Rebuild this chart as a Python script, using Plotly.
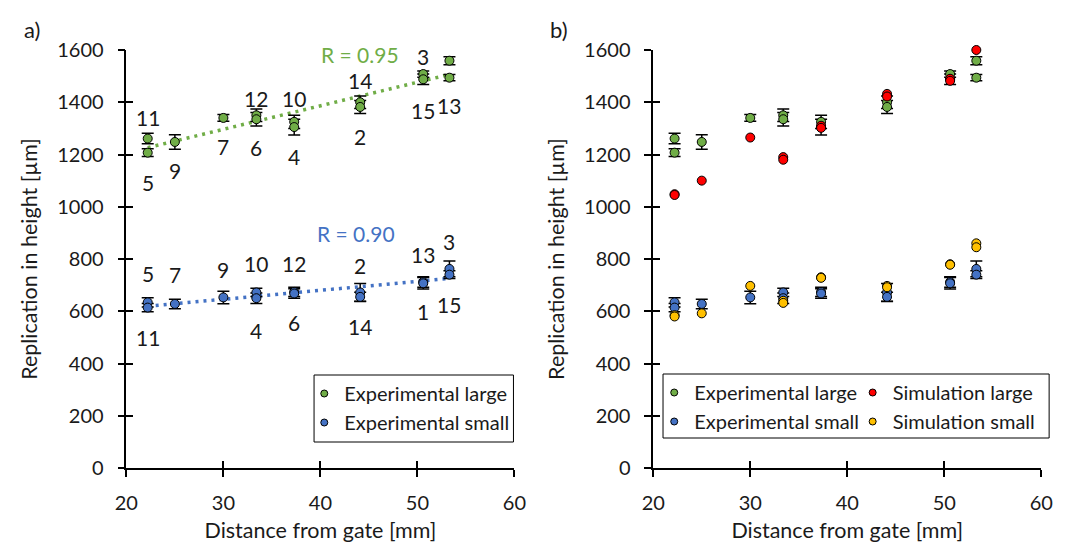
import numpy as np
import plotly.graph_objects as go

# ---- data -----------------------------------------------------------------
# Large cavities: gate distance [mm], sample id, measured height, std, simulated height
dist_large = [22.2, 22.2, 25.0, 30.0, 33.4, 33.4, 37.3, 37.3, 44.1, 44.1, 50.6, 50.6, 53.3, 53.3]
id_large = [11, 5, 9, 7, 12, 6, 10, 4, 14, 2, 3, 15, 1, 13]
exp_large = [1261, 1207, 1248, 1340, 1350, 1335, 1325, 1305, 1400, 1382, 1508, 1488, 1559, 1494]
err_large = [20, 15, 28, 13, 24, 26, 25, 30, 24, 25, 12, 20, 15, 12]
sim_large = [1048, 1045, 1100, 1265, 1190, 1180, 1310, 1302, 1432, 1422, 1490, 1482, 1603, 1600]
lab_y_large = [1340, 1091, 1137, 1230, 1416, 1225, 1416, 1192, 1483, 1268, 1577, 1370, 1626, 1386]

# Small cavities
dist_small = [22.2, 22.2, 25.0, 30.0, 33.4, 33.4, 37.3, 37.3, 44.1, 44.1, 50.6, 50.6, 53.3, 53.3]
id_small = [5, 11, 7, 9, 10, 4, 12, 6, 2, 14, 13, 1, 3, 15]
exp_small = [634, 614, 628, 653, 672, 650, 674, 668, 672, 655, 712, 707, 762, 740]
err_small = [18, 16, 18, 24, 16, 20, 18, 18, 34, 18, 20, 22, 30, 15]
sim_small = [585, 580, 592, 697, 640, 632, 730, 728, 697, 692, 780, 778, 860, 845]
lab_y_small = [745, 500, 739, 758, 781, 528, 781, 556, 777, 541, 819, 598, 866, 624]

r_large = "R = 0.95"
r_small = "R = 0.90"

x_ticks = [20, 30, 40, 50, 60]
y_ticks = [0, 200, 400, 600, 800, 1000, 1200, 1400, 1600]

# ---- style ----------------------------------------------------------------
GREEN = "#70AD47"
BLUE = "#4472C4"
RED = "#FF0000"
YELLOW = "#FFC000"
INK = "#1a1a1a"
FONT = "Lato"
W, H = 1067, 545
M_T, M_B = 50, 77
DOM_A = [117 / W, 514 / W]
DOM_B = [656 / W, 1053 / W]


def py(pix):
    """vertical pixel (from top) -> paper fraction"""
    return (H - M_B - pix) / (H - M_T - M_B)


fig = go.Figure()


def points(x, y, color, xa, ya, err=None):
    kw = {}
    if err is not None:
        kw["error_y"] = dict(type="data", array=err, visible=True, color="black",
                             thickness=1.5, width=6)
    fig.add_trace(go.Scatter(
        x=x, y=y, mode="markers", xaxis=xa, yaxis=ya, showlegend=False,
        cliponaxis=False,
        marker=dict(size=9, color=color, line=dict(color="black", width=1)),
        **kw))


def trend(x, y, color, xa, ya):
    k, b = np.polyfit(x, y, 1)
    xs = np.array([min(x), max(x)])
    fig.add_trace(go.Scatter(
        x=xs, y=k * xs + b, mode="lines", xaxis=xa, yaxis=ya, showlegend=False,
        line=dict(color=color, width=3.5, dash="3px,5px")))


def legend_entry(name, color, legend):
    fig.add_trace(go.Scatter(
        x=[None], y=[None], mode="markers", name=name, legend=legend,
        marker=dict(size=7, color=color, line=dict(color="black", width=1))))


# panel a
trend(dist_large, exp_large, GREEN, "x", "y")
trend(dist_small, exp_small, BLUE, "x", "y")
points(dist_large, exp_large, GREEN, "x", "y", err_large)
points(dist_small, exp_small, BLUE, "x", "y", err_small)

# panel b
points(dist_large, exp_large, GREEN, "x2", "y2", err_large)
points(dist_small, exp_small, BLUE, "x2", "y2", err_small)
points(dist_large, sim_large, RED, "x2", "y2")
points(dist_small, sim_small, YELLOW, "x2", "y2")

legend_entry("Experimental large", GREEN, "legend")
legend_entry("Experimental small", BLUE, "legend")
legend_entry("Experimental large", GREEN, "legend2")
legend_entry("Experimental small", BLUE, "legend2")
legend_entry("Simulation large", RED, "legend3")
legend_entry("Simulation small", YELLOW, "legend3")

# cross-style tick marks: an inside-tick twin of every axis
for xa, ya in (("x3", "y3"), ("x4", "y4")):
    fig.add_trace(go.Scatter(x=[None], y=[None], xaxis=xa, yaxis=ya,
                             showlegend=False, hoverinfo="skip"))

LABEL_SIZE = 21
ann = []
for x, y, t in zip(dist_large, lab_y_large, id_large):
    ann.append(dict(x=x, y=y, xref="x", yref="y", text=str(t), showarrow=False,
                    font=dict(family=FONT, size=LABEL_SIZE, color=INK)))
for x, y, t in zip(dist_small, lab_y_small, id_small):
    ann.append(dict(x=x, y=y, xref="x", yref="y", text=str(t), showarrow=False,
                    font=dict(family=FONT, size=LABEL_SIZE, color=INK)))


def paper_text(xp, yp, text, color, size):
    ann.append(dict(x=xp / W, y=py(yp), xref="paper", yref="paper", text=text,
                    xanchor="center", yanchor="middle", showarrow=False,
                    font=dict(family=FONT, size=size, color=color)))


paper_text(356, 54, r_large, GREEN, LABEL_SIZE)
paper_text(352, 234, r_small, BLUE, LABEL_SIZE)
paper_text(20, 30, "a)", INK, 22)
paper_text(560, 30, "b)", INK, 22)

tickfont = dict(family=FONT, size=20, color=INK)
titlefont = dict(family=FONT, size=21.5, color=INK)


def xaxis(dom, main=True, over=None):
    d = dict(domain=dom, range=[20, 60], tickvals=x_ticks, showgrid=False,
             zeroline=False, ticklen=7, tickwidth=1.5, tickcolor="black")
    if main:
        d.update(showline=True, linecolor="black", linewidth=1.5, ticks="outside",
                 tickfont=tickfont, ticklabelstandoff=9,
                 title=dict(text="Distance from gate [mm]", font=titlefont, standoff=10))
    else:
        d.update(overlaying=over, ticks="inside", showticklabels=False, showline=False)
    return d


def yaxis(main=True, over=None):
    d = dict(range=[0, 1600], tickvals=y_ticks, showgrid=False, zeroline=False,
             ticklen=7, tickwidth=1.5, tickcolor="black")
    if main:
        d.update(showline=True, linecolor="black", linewidth=1.5, ticks="outside",
                 tickfont=tickfont, ticklabelstandoff=10,
                 title=dict(text="Replication in height [µm]", font=titlefont, standoff=14))
    else:
        d.update(overlaying=over, ticks="inside", showticklabels=False, showline=False)
    return d


legend_common = dict(font=dict(family=FONT, size=20, color=INK), bgcolor="rgba(0,0,0,0)",
                     xanchor="left", yanchor="top", borderwidth=0,
                     itemsizing="trace")


def box(x0, x1, y0, y1):
    return dict(type="rect", xref="paper", yref="paper", x0=x0 / W, x1=x1 / W,
                y0=py(y1), y1=py(y0), line=dict(color="black", width=1))


fig.update_layout(
    width=W, height=H, margin=dict(l=0, r=0, t=M_T, b=M_B),
    plot_bgcolor="white", paper_bgcolor="white",
    font=dict(family=FONT, color=INK),
    xaxis=dict(**xaxis(DOM_A), anchor="y"),
    yaxis=dict(**yaxis(), anchor="x"),
    xaxis2=dict(**xaxis(DOM_B), anchor="y2"),
    yaxis2=dict(**yaxis(), anchor="x2"),
    xaxis3=dict(**xaxis(DOM_A, False, "x"), anchor="y3"),
    yaxis3=dict(**yaxis(False, "y"), anchor="x3"),
    xaxis4=dict(**xaxis(DOM_B, False, "x2"), anchor="y4"),
    yaxis4=dict(**yaxis(False, "y2"), anchor="x4"),
    legend=dict(**legend_common, x=299 / W, y=py(374)),
    legend2=dict(**legend_common, x=657 / W, y=py(373)),
    legend3=dict(**legend_common, x=860 / W, y=py(373)),
    shapes=[box(309, 513, 375, 442), box(666, 1061, 374, 438)],
    annotations=ann,
)

fig.write_html("out.html")
